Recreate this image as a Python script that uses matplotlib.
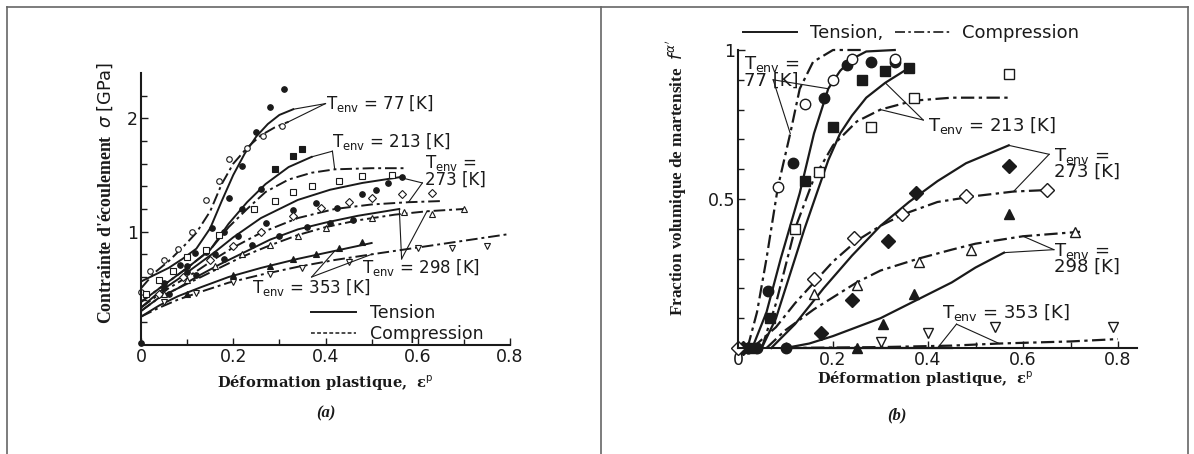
import matplotlib
matplotlib.use("Agg")
import matplotlib.pyplot as plt
from matplotlib.lines import Line2D

plt.rcParams['font.family'] = ['DejaVu Sans']
plt.rcParams['mathtext.fontset'] = 'dejavusans'

INK = '#1a1a1a'
SERIF = 'Liberation Serif'
WIDE_SERIF = 'DejaVu Serif'

# ---------------- (a) flow stress [GPa] vs plastic strain ----------------
# fitted curves (tension = solid, compression = dash-dot)
a77_tens_x = [0, 0.03, 0.06, 0.09, 0.12, 0.15, 0.175, 0.2, 0.225, 0.25, 0.275, 0.3, 0.33]
a77_tens_y = [0.56, 0.62, 0.68, 0.76, 0.85, 1.03, 1.27, 1.5, 1.69, 1.84, 1.95, 2.03, 2.08]
a77_comp_x = [0, 0.03, 0.06, 0.09, 0.12, 0.15, 0.175, 0.2, 0.23, 0.26, 0.29, 0.32]
a77_comp_y = [0.5, 0.64, 0.74, 0.86, 0.99, 1.18, 1.42, 1.6, 1.74, 1.85, 1.92, 1.97]
a213_tens_x = [0, 0.03, 0.06, 0.1, 0.15, 0.19, 0.23, 0.27, 0.32, 0.37]
a213_tens_y = [0.38, 0.47, 0.56, 0.68, 0.84, 1.07, 1.26, 1.42, 1.57, 1.66]
a213_comp_x = [0, 0.03, 0.06, 0.1, 0.15, 0.19, 0.23, 0.27, 0.32, 0.37, 0.42, 0.5, 0.57]
a213_comp_y = [0.38, 0.47, 0.56, 0.68, 0.84, 1.04, 1.2, 1.35, 1.46, 1.52, 1.55, 1.56, 1.56]
a273_tens_x = [0, 0.04, 0.08, 0.12, 0.16, 0.2, 0.26, 0.34, 0.41, 0.48, 0.56]
a273_tens_y = [0.33, 0.47, 0.58, 0.7, 0.82, 0.95, 1.12, 1.28, 1.37, 1.43, 1.48]
a273_comp_x = [0, 0.04, 0.08, 0.12, 0.16, 0.2, 0.26, 0.34, 0.42, 0.5, 0.58, 0.65]
a273_comp_y = [0.33, 0.45, 0.55, 0.65, 0.76, 0.86, 0.99, 1.12, 1.2, 1.24, 1.26, 1.27]
a298_tens_x = [0, 0.04, 0.08, 0.12, 0.17, 0.22, 0.28, 0.34, 0.4, 0.47, 0.56]
a298_tens_y = [0.3, 0.42, 0.5, 0.6, 0.71, 0.81, 0.93, 1.02, 1.08, 1.14, 1.2]
a298_comp_x = [0, 0.04, 0.08, 0.12, 0.17, 0.22, 0.28, 0.34, 0.4, 0.47, 0.55, 0.62, 0.7]
a298_comp_y = [0.3, 0.42, 0.5, 0.58, 0.68, 0.78, 0.88, 0.97, 1.04, 1.1, 1.15, 1.18, 1.2]
a353_tens_x = [0, 0.04, 0.08, 0.13, 0.19, 0.26, 0.34, 0.42, 0.5]
a353_tens_y = [0.25, 0.35, 0.43, 0.51, 0.6, 0.68, 0.76, 0.83, 0.9]
a353_comp_x = [0, 0.04, 0.08, 0.13, 0.19, 0.26, 0.34, 0.42, 0.5, 0.6, 0.7, 0.8]
a353_comp_y = [0.25, 0.33, 0.4, 0.47, 0.55, 0.62, 0.69, 0.75, 0.8, 0.86, 0.92, 0.98]

# measured points
a77_tens_px = [0.0, 0.085, 0.117, 0.155, 0.19, 0.22, 0.25, 0.28, 0.31]
a77_tens_py = [0.02, 0.71, 0.81, 1.03, 1.3, 1.58, 1.88, 2.1, 2.26]
a77_comp_px = [0.0, 0.02, 0.05, 0.08, 0.11, 0.14, 0.17, 0.19, 0.23, 0.265, 0.305]
a77_comp_py = [0.47, 0.65, 0.75, 0.85, 1.0, 1.28, 1.45, 1.64, 1.74, 1.84, 1.93]
a213_tens_px = [0.05, 0.1, 0.14, 0.18, 0.22, 0.26, 0.29, 0.33, 0.35]
a213_tens_py = [0.55, 0.7, 0.82, 1.0, 1.2, 1.38, 1.55, 1.67, 1.73]
a213_comp_px = [0.01, 0.04, 0.07, 0.1, 0.14, 0.17, 0.245, 0.29, 0.33, 0.37, 0.43, 0.48, 0.545]
a213_comp_py = [0.45, 0.57, 0.65, 0.78, 0.84, 0.97, 1.2, 1.27, 1.35, 1.4, 1.45, 1.49, 1.5]
a273_tens_px = [0.05, 0.1, 0.16, 0.21, 0.27, 0.33, 0.38, 0.425, 0.48, 0.51, 0.535, 0.566]
a273_tens_py = [0.5, 0.64, 0.8, 0.96, 1.08, 1.19, 1.25, 1.21, 1.33, 1.37, 1.43, 1.48]
a273_comp_px = [0.04, 0.09, 0.15, 0.2, 0.26, 0.33, 0.39, 0.45, 0.5, 0.565, 0.63]
a273_comp_py = [0.45, 0.6, 0.75, 0.87, 1.0, 1.14, 1.21, 1.26, 1.3, 1.33, 1.34]
a298_tens_px = [0.06, 0.12, 0.18, 0.24, 0.3, 0.36, 0.41, 0.46]
a298_tens_py = [0.45, 0.62, 0.76, 0.88, 0.96, 1.04, 1.08, 1.1]
a298_comp_px = [0.05, 0.1, 0.16, 0.22, 0.28, 0.34, 0.4, 0.5, 0.57, 0.63, 0.7]
a298_comp_py = [0.45, 0.57, 0.7, 0.8, 0.88, 0.96, 1.03, 1.12, 1.17, 1.16, 1.2]
a353_tens_px = [0.1, 0.2, 0.28, 0.33, 0.38, 0.43, 0.48]
a353_tens_py = [0.45, 0.62, 0.7, 0.76, 0.8, 0.86, 0.91]
a353_comp_px = [0.05, 0.12, 0.2, 0.28, 0.35, 0.45, 0.6, 0.675, 0.75]
a353_comp_py = [0.38, 0.46, 0.56, 0.63, 0.68, 0.73, 0.86, 0.86, 0.87]

# ---------------- (b) martensite volume fraction vs plastic strain ----------------
b77_tens_x = [0.03, 0.06, 0.09, 0.13, 0.16, 0.19, 0.215, 0.24, 0.27, 0.33]
b77_tens_y = [0.0, 0.12, 0.3, 0.52, 0.72, 0.87, 0.93, 0.97, 0.995, 1.0]
b77_comp_x = [0.02, 0.04, 0.06, 0.084, 0.11, 0.13, 0.158, 0.2, 0.26]
b77_comp_y = [0.0, 0.12, 0.3, 0.54, 0.72, 0.87, 0.96, 1.0, 1.0]
b213_tens_x = [0.05, 0.08, 0.11, 0.14, 0.166, 0.19, 0.215, 0.24, 0.27, 0.31, 0.36]
b213_tens_y = [0.0, 0.1, 0.25, 0.4, 0.52, 0.63, 0.72, 0.78, 0.84, 0.89, 0.94]
b213_comp_x = [0.05, 0.08, 0.12, 0.16, 0.2, 0.25, 0.3, 0.37, 0.45, 0.57]
b213_comp_y = [0.0, 0.15, 0.4, 0.57, 0.68, 0.76, 0.8, 0.83, 0.84, 0.84]
b273_tens_x = [0.07, 0.12, 0.18, 0.24, 0.3, 0.36, 0.42, 0.48, 0.57]
b273_tens_y = [0.0, 0.08, 0.2, 0.31, 0.41, 0.49, 0.56, 0.62, 0.68]
b273_comp_x = [0.03, 0.08, 0.12, 0.16, 0.2, 0.25, 0.3, 0.35, 0.42, 0.5, 0.58, 0.65]
b273_comp_y = [0.0, 0.07, 0.15, 0.22, 0.29, 0.36, 0.41, 0.45, 0.49, 0.51, 0.525, 0.53]
b298_tens_x = [0.1, 0.15, 0.2, 0.25, 0.3, 0.35, 0.4, 0.45, 0.5, 0.56]
b298_tens_y = [0.0, 0.015, 0.04, 0.07, 0.1, 0.14, 0.18, 0.22, 0.27, 0.32]
b298_comp_x = [0.06, 0.1, 0.16, 0.2, 0.25, 0.3, 0.38, 0.45, 0.5, 0.6, 0.72]
b298_comp_y = [0.0, 0.06, 0.13, 0.17, 0.22, 0.26, 0.3, 0.33, 0.35, 0.375, 0.39]
b353_tens_x = [0.1, 0.3, 0.45]
b353_tens_y = [0.0, 0.0, 0.0]
b353_comp_x = [0.1, 0.3, 0.45, 0.55, 0.7, 0.8]
b353_comp_y = [0.0, 0.003, 0.008, 0.015, 0.022, 0.03]

b77_tens_px = [0.02, 0.04, 0.064, 0.1, 0.116, 0.18, 0.23, 0.28, 0.33]
b77_tens_py = [0.0, 0.0, 0.19, 0.0, 0.62, 0.84, 0.95, 0.96, 0.96]
b77_comp_px = [0.02, 0.084, 0.14, 0.2, 0.24, 0.33]
b77_comp_py = [0.0, 0.54, 0.82, 0.9, 0.97, 0.97]
b213_tens_px = [0.03, 0.067, 0.14, 0.2, 0.26, 0.31, 0.36]
b213_tens_py = [0.0, 0.1, 0.56, 0.74, 0.9, 0.93, 0.94]
b213_comp_px = [0.12, 0.17, 0.28, 0.37, 0.57]
b213_comp_py = [0.4, 0.59, 0.74, 0.84, 0.92]
b273_tens_px = [0.01, 0.175, 0.24, 0.315, 0.375, 0.57]
b273_tens_py = [0.0, 0.05, 0.16, 0.36, 0.52, 0.61]
b273_comp_px = [0.0, 0.16, 0.245, 0.345, 0.48, 0.65]
b273_comp_py = [0.0, 0.23, 0.37, 0.45, 0.51, 0.53]
b298_tens_px = [0.25, 0.305, 0.37, 0.57]
b298_tens_py = [0.0, 0.08, 0.18, 0.45]
b298_comp_px = [0.16, 0.25, 0.38, 0.49, 0.71]
b298_comp_py = [0.18, 0.21, 0.29, 0.33, 0.39]
b353_comp_px = [0.3, 0.4, 0.54, 0.79]
b353_comp_py = [0.02, 0.05, 0.07, 0.07]

W, H = 1194, 454
fig = plt.figure(figsize=(W / 100, H / 100), dpi=100)

# scanned frame lines
for xs, ys in [([7, 1188], [7, 7]), ([7, 7], [7, H]), ([601, 601], [7, H]), ([1188, 1188], [7, H])]:
    fig.add_artist(Line2D([x / W for x in xs], [1 - y / H for y in ys], color='#666666', lw=1.2))

DASHDOT = (0, (6, 2, 1.5, 2))
TICK_FS = 12.5


def style_axes(ax, xmax, ymax):
    ax.set_xlim(0, xmax)
    ax.set_ylim(0, ymax)
    for s in ['top', 'right']:
        ax.spines[s].set_visible(False)
    for s in ['left', 'bottom']:
        ax.spines[s].set_linewidth(1.5)
        ax.spines[s].set_color(INK)
    ax.tick_params(which='both', direction='in', colors=INK, width=1)
    ax.tick_params(which='major', length=5, pad=2)
    ax.tick_params(which='minor', length=4)


def env_label(t):
    return 'T$_{\\mathrm{env}}$ = ' + t


def leader(ax, apex, pts, lw=0.8):
    for p in pts:
        ax.plot([apex[0], p[0]], [apex[1], p[1]], color=INK, lw=lw, clip_on=False)


# ---------------- panel (a) ----------------
axa = fig.add_axes([141 / W, 1 - 345 / H, 369 / W, 272 / H])
style_axes(axa, 0.8, 2.4)
axa.set_xticks([0, 0.2, 0.4, 0.6, 0.8])
axa.set_xticklabels(['0', '0.2', '0.4', '0.6', '0.8'], fontsize=TICK_FS)
axa.set_xticks([0.1, 0.3, 0.5, 0.7], minor=True)
axa.set_yticks([1, 2])
axa.set_yticklabels(['1', '2'], fontsize=TICK_FS)
axa.set_yticks([0.2, 0.4, 0.6, 0.8, 1.2, 1.4, 1.6, 1.8, 2.2], minor=True)

a_lines = [
    (a77_tens_x, a77_tens_y, '-'), (a77_comp_x, a77_comp_y, DASHDOT),
    (a213_tens_x, a213_tens_y, '-'), (a213_comp_x, a213_comp_y, DASHDOT),
    (a273_tens_x, a273_tens_y, '-'), (a273_comp_x, a273_comp_y, DASHDOT),
    (a298_tens_x, a298_tens_y, '-'), (a298_comp_x, a298_comp_y, DASHDOT),
    (a353_tens_x, a353_tens_y, '-'), (a353_comp_x, a353_comp_y, DASHDOT),
]
for x, y, ls in a_lines:
    axa.plot(x, y, color=INK, lw=1.4, ls=ls)

a_pts = [
    (a77_tens_px, a77_tens_py, 'o', INK), (a77_comp_px, a77_comp_py, 'o', 'white'),
    (a213_tens_px[:6], a213_tens_py[:6], 'o', INK), (a213_tens_px[6:], a213_tens_py[6:], 's', INK),
    (a213_comp_px, a213_comp_py, 's', 'white'),
    (a273_tens_px, a273_tens_py, 'o', INK), (a273_comp_px, a273_comp_py, 'D', 'white'),
    (a298_tens_px, a298_tens_py, 'o', INK), (a298_comp_px, a298_comp_py, '^', 'white'),
    (a353_tens_px, a353_tens_py, '^', INK), (a353_comp_px, a353_comp_py, 'v', 'white'),
]
for x, y, m, fc in a_pts:
    axa.plot(x, y, ls='none', marker=m, ms=4, mfc=fc, mec=INK, mew=0.8, clip_on=False)

fs_a = 12
axa.text(0.40, 2.13, env_label('77 [K]'), fontsize=fs_a, color=INK, va='center')
leader(axa, (0.40, 2.13), [(a77_tens_x[-1], a77_tens_y[-1]), (a77_comp_x[-1], a77_comp_y[-1])])
axa.text(0.415, 1.8, env_label('213 [K]'), fontsize=fs_a, color=INK, va='center')
leader(axa, (0.415, 1.71), [(a213_tens_x[-1], a213_tens_y[-1]), (a213_comp_x[10], a213_comp_y[10])])
axa.text(0.615, 1.54, 'T$_{\\mathrm{env}}$ =\n273 [K]', fontsize=fs_a, color=INK, va='center',
         linespacing=0.85)
leader(axa, (0.61, 1.43), [(a273_tens_x[-1], a273_tens_y[-1]), (a273_comp_x[10], a273_comp_y[10])])
axa.text(0.48, 0.68, env_label('298 [K]'), fontsize=fs_a, color=INK, va='center')
leader(axa, (0.565, 0.76), [(a298_tens_x[-1], a298_tens_y[-1]), (a298_comp_x[11], a298_comp_y[11])])
axa.text(0.24, 0.51, env_label('353 [K]'), fontsize=fs_a, color=INK, va='center')
leader(axa, (0.37, 0.6), [(a353_tens_x[7], a353_tens_y[7]), (a353_comp_x[8], a353_comp_y[8])])

a_handles = [Line2D([], [], color=INK, lw=1.4),
             Line2D([], [], color=INK, lw=1.1, dashes=(2.5, 1.5))]
axa.legend(a_handles, ['Tension', 'Compression'], loc='upper left', bbox_to_anchor=(0.46, 0.15),
           frameon=False, fontsize=12.5, handlelength=2.6, handletextpad=0.8, labelspacing=0.15,
           borderpad=0, borderaxespad=0, labelcolor=INK)

axa.set_xlabel('Déformation plastique,  ε$^{\\mathrm{p}}$', fontfamily=WIDE_SERIF, fontweight='bold',
               fontsize=10.5, color=INK)
axa.xaxis.set_label_coords(0.5, -0.14)
axa.xaxis.label.set_va('center')
axa.set_ylabel("Contrainte d'écoulement  $\\sigma$ $\\mathrm{[GPa]}$", fontfamily=SERIF,
               fontweight='bold', fontsize=12.8, color=INK)
axa.yaxis.set_label_coords(-0.098, 0.56)
axa.yaxis.label.set_va('center')
fig.text(326 / W, 1 - 413 / H, '(a)', fontfamily=SERIF, fontweight='bold', fontstyle='italic',
         fontsize=12, color=INK, ha='center', va='center')

# ---------------- panel (b) ----------------
axb = fig.add_axes([738 / W, 1 - 348 / H, 399 / W, 298 / H])
style_axes(axb, 0.84, 1.0)
axb.set_xticks([0, 0.2, 0.4, 0.6, 0.8])
axb.set_xticklabels(['0', '0.2', '0.4', '0.6', '0.8'], fontsize=TICK_FS)
axb.set_xticks([0.1, 0.3, 0.5, 0.7], minor=True)
axb.set_yticks([0.5, 1])
axb.set_yticklabels(['0.5', '1'], fontsize=TICK_FS)
axb.set_yticks([0.1, 0.2, 0.3, 0.4, 0.6, 0.7, 0.8, 0.9], minor=True)

b_lines = [
    (b77_tens_x, b77_tens_y, '-'), (b77_comp_x, b77_comp_y, DASHDOT),
    (b213_tens_x, b213_tens_y, '-'), (b213_comp_x, b213_comp_y, DASHDOT),
    (b273_tens_x, b273_tens_y, '-'), (b273_comp_x, b273_comp_y, DASHDOT),
    (b298_tens_x, b298_tens_y, '-'), (b298_comp_x, b298_comp_y, DASHDOT),
    (b353_tens_x, b353_tens_y, '-'), (b353_comp_x, b353_comp_y, DASHDOT),
]
for x, y, ls in b_lines:
    axb.plot(x, y, color=INK, lw=1.6, ls=ls, clip_on=False)

b_pts = [
    (b77_tens_px, b77_tens_py, 'o', INK), (b77_comp_px, b77_comp_py, 'o', 'white'),
    (b213_tens_px, b213_tens_py, 's', INK), (b213_comp_px, b213_comp_py, 's', 'white'),
    (b273_tens_px, b273_tens_py, 'D', INK), (b273_comp_px, b273_comp_py, 'D', 'white'),
    (b298_tens_px, b298_tens_py, '^', INK), (b298_comp_px, b298_comp_py, '^', 'white'),
    (b353_comp_px, b353_comp_py, 'v', 'white'),
]
for x, y, m, fc in b_pts:
    axb.plot(x, y, ls='none', marker=m, ms=7.5, mfc=fc, mec=INK, mew=1.0, clip_on=False)

fs_b = 13
axb.text(0.012, 0.985, 'T$_{\\mathrm{env}}$ =\n77 [K]', fontsize=fs_b, color=INK, va='top',
         linespacing=0.8)
leader(axb, (0.074, 0.9), [(b77_comp_x[4], b77_comp_y[4]), (b77_tens_x[5], b77_tens_y[5])])
axb.text(0.4, 0.745, env_label('213 [K]'), fontsize=fs_b, color=INK, va='center')
leader(axb, (0.39, 0.765), [(b213_tens_x[9], b213_tens_y[9]), (b213_comp_x[6], b213_comp_y[6])])
axb.text(0.665, 0.62, 'T$_{\\mathrm{env}}$ =\n273 [K]', fontsize=fs_b, color=INK, va='center',
         linespacing=0.8)
leader(axb, (0.655, 0.65), [(b273_tens_x[-1], b273_tens_y[-1]), (b273_comp_x[10], b273_comp_y[10])])
axb.text(0.665, 0.3, 'T$_{\\mathrm{env}}$ =\n298 [K]', fontsize=fs_b, color=INK, va='center',
         linespacing=0.8)
leader(axb, (0.665, 0.33), [(b298_tens_x[-1], b298_tens_y[-1]), (b298_comp_x[9], b298_comp_y[9])])
axb.text(0.43, 0.12, env_label('353 [K]'), fontsize=fs_b, color=INK, va='center')
leader(axb, (0.46, 0.08), [(b353_tens_x[-1] - 0.03, b353_tens_y[-1]), (b353_comp_x[3], b353_comp_y[3])])

b_handles = [Line2D([], [], color=INK, lw=1.4),
             Line2D([], [], color=INK, lw=1.2, ls=DASHDOT)]
axb.legend(b_handles, ['Tension,', 'Compression'], loc='center left', bbox_to_anchor=(0.012, 1.057),
           ncol=2, frameon=False, fontsize=13, handlelength=3.0, handletextpad=0.7,
           columnspacing=0.7, borderpad=0, borderaxespad=0, labelcolor=INK)

axb.set_xlabel('Déformation plastique,  ε$^{\\mathrm{p}}$', fontfamily=WIDE_SERIF, fontweight='bold',
               fontsize=10.5, color=INK)
axb.xaxis.set_label_coords(0.47, -0.105)
axb.xaxis.label.set_va('center')
axb.set_ylabel("Fraction volumique de martensite  $f^{\\alpha'}$", fontfamily=SERIF,
               fontweight='bold', fontsize=12.3, color=INK)
axb.yaxis.set_label_coords(-0.153, 0.57)
axb.yaxis.label.set_va('center')
fig.text(897 / W, 1 - 415 / H, '(b)', fontfamily=SERIF, fontweight='bold', fontstyle='italic',
         fontsize=12, color=INK, ha='center', va='center')

fig.savefig('out.png', dpi=100, facecolor='white')
